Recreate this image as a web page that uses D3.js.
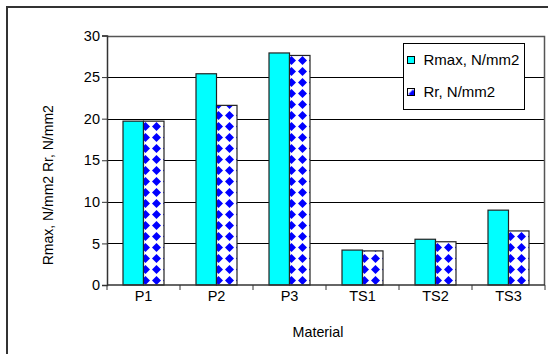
<!DOCTYPE html>
<html>
<head>
<meta charset="utf-8">
<script src="https://cdn.jsdelivr.net/npm/d3@7"></script>
<style>
  html, body { margin: 0; padding: 0; background: #fff; }
  svg { display: block; }
  text { font-family: "Liberation Sans", Arial, sans-serif; fill: #000; }
</style>
</head>
<body>
<svg id="chart" width="548" height="354"></svg>
<script>
// Materials on the x axis
const categories = ["P1", "P2", "P3", "TS1", "TS2", "TS3"];
// Strength series, N/mm2
const seriesNames = ["Rmax, N/mm2", "Rr, N/mm2"];
const rmax = [19.7, 25.4, 27.9, 4.2, 5.5, 9.0];
const rr = [19.7, 21.6, 27.6, 4.1, 5.2, 6.5];
const yTicks = [0, 5, 10, 15, 20, 25, 30];

const svg = d3.select("#chart");
const W = 548, H = 354;
const plot = { left: 107, right: 545, top: 35.5, bottom: 285 };

const defs = svg.append("defs");
// Blue diamond fill for the Rr series
const pat = defs.append("pattern")
  .attr("id", "diamonds")
  .attr("patternUnits", "userSpaceOnUse")
  .attr("width", 11).attr("height", 11);
pat.append("rect").attr("width", 11).attr("height", 11).attr("fill", "#fff");
pat.append("path")
  .attr("d", "M5.5,1 L10,5.5 L5.5,10 L1,5.5 Z")
  .attr("fill", "#0000ff");

// Outer frame of the chart
svg.append("rect")
  .attr("x", 7).attr("y", 7)
  .attr("width", W + 20).attr("height", H + 20)
  .attr("fill", "none").attr("stroke", "#333").attr("stroke-width", 2);

const x = d3.scaleBand().domain(categories).range([plot.left, plot.right]).padding(0);
const half = 20.5;
const x1 = d3.scaleBand().domain(seriesNames)
  .range([x.bandwidth() / 2 - half, x.bandwidth() / 2 + half]).padding(0);
const y = d3.scaleLinear().domain([0, 30]).range([plot.bottom, plot.top]);

// Horizontal gridlines
svg.append("g")
  .selectAll("line")
  .data(yTicks.filter(d => d > 0 && d < 30))
  .join("line")
  .attr("x1", plot.left).attr("x2", plot.right)
  .attr("y1", d => Math.round(y(d)) + 0.5).attr("y2", d => Math.round(y(d)) + 0.5)
  .attr("stroke", "#000").attr("stroke-width", 1);

// Plot area border (top and right)
svg.append("path")
  .attr("d", `M${plot.left},${Math.round(plot.top) + 0.5} H${plot.right - 0.5} V${plot.bottom}`)
  .attr("fill", "none").attr("stroke", "#555").attr("stroke-width", 1.5);

const data = categories.map((c, i) => ({ cat: c, values: [
  { key: seriesNames[0], v: rmax[i] },
  { key: seriesNames[1], v: rr[i] }
]}));

const fills = { [seriesNames[0]]: "#00ffff", [seriesNames[1]]: "url(#diamonds)" };

const groups = svg.append("g").selectAll("g")
  .data(data).join("g")
  .attr("transform", d => `translate(${x(d.cat)},0)`);

groups.selectAll("rect")
  .data(d => d.values).join("rect")
  .attr("x", d => x1(d.key))
  .attr("y", d => y(d.v))
  .attr("width", x1.bandwidth())
  .attr("height", d => y(0) - y(d.v))
  .attr("fill", d => fills[d.key])
  .attr("stroke", "#222").attr("stroke-width", 1.2);

// Y axis
const yAxis = svg.append("g")
  .attr("transform", `translate(${plot.left},0)`)
  .call(d3.axisLeft(y).tickValues(yTicks).tickSize(5).tickPadding(2).tickFormat(d3.format("d")));
yAxis.select(".domain").attr("stroke", "#333").attr("stroke-width", 1.5);
yAxis.selectAll(".tick line").attr("stroke", "#333");
yAxis.selectAll(".tick text").style("font-size", "14.5px");

// X axis: ticks at category boundaries
const xAxisG = svg.append("g").attr("transform", `translate(0,${plot.bottom})`);
xAxisG.append("line")
  .attr("x1", plot.left).attr("x2", plot.right)
  .attr("stroke", "#333").attr("stroke-width", 1.5);
xAxisG.selectAll("line.tk")
  .data(categories.map(c => x(c)).concat([plot.right]))
  .join("line").attr("class", "tk")
  .attr("x1", d => d).attr("x2", d => d)
  .attr("y1", 0).attr("y2", 5)
  .attr("stroke", "#333");
xAxisG.selectAll("text")
  .data(categories).join("text")
  .attr("x", d => x(d) + x.bandwidth() / 2)
  .attr("y", 15.5)
  .attr("text-anchor", "middle")
  .style("font-size", "14.5px")
  .text(d => d);

// Axis titles
svg.append("text")
  .attr("x", 318).attr("y", 337)
  .attr("text-anchor", "middle").style("font-size", "14.3px")
  .text("Material");
svg.append("text")
  .attr("transform", `translate(53,${(plot.top + plot.bottom) / 2 + 25}) rotate(-90)`)
  .attr("text-anchor", "middle").style("font-size", "14px")
  .text("Rmax, N/mm2  Rr, N/mm2");

// Legend
const lg = svg.append("g").attr("transform", "translate(403.5,43.5)");
lg.append("rect").attr("width", 121).attr("height", 66)
  .attr("fill", "#fff").attr("stroke", "#000").attr("stroke-width", 1);
const items = lg.selectAll("g.item").data(seriesNames).join("g")
  .attr("class", "item")
  .attr("transform", (d, i) => `translate(4,${13 + i * 32})`);
items.append("rect").attr("width", 7).attr("height", 7)
  .attr("fill", d => fills[d]).attr("stroke", "#000").attr("stroke-width", 1);
items.append("text").attr("x", 16).attr("y", 8.5)
  .style("font-size", "15px").text(d => d);
</script>
</body>
</html>
